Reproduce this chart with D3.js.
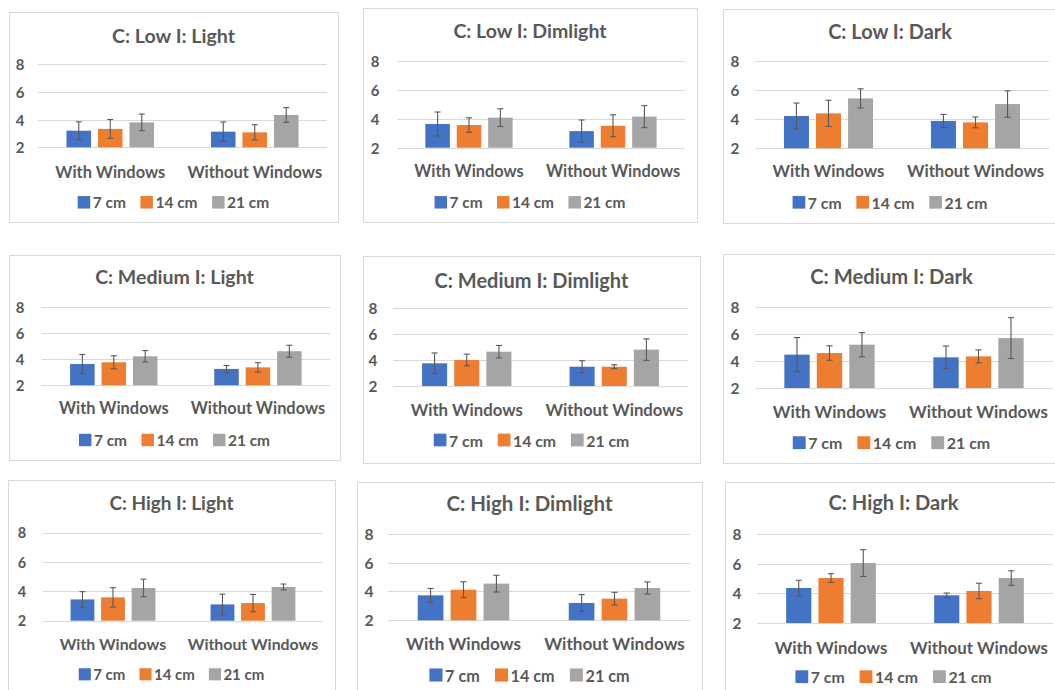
<!DOCTYPE html>
<html>
<head>
<meta charset="utf-8">
<script src="https://cdn.jsdelivr.net/npm/d3@7"></script>
<style>
  html, body { margin: 0; padding: 0; background: #ffffff; }
  svg { display: block; }
  text { font-family: "Lato", "Open Sans", sans-serif; font-weight: 700; fill: #595959; }
</style>
</head>
<body>
<svg id="chart" width="1055" height="690"></svg>
<script>
// ---- data ----
const categories = ["With Windows", "Without Windows"];
const seriesNames = ["7 cm", "14 cm", "21 cm"];
const seriesColors = ["#4472C4", "#ED7D31", "#A5A5A5"];
const yTicks = [2, 4, 6, 8];

const panelTitles = [
  "C: Low I: Light", "C: Low I: Dimlight", "C: Low I: Dark",
  "C: Medium I: Light", "C: Medium I: Dimlight", "C: Medium I: Dark",
  "C: High I: Light", "C: High I: Dimlight", "C: High I: Dark"
];

// mean per category (rows) and series (columns), with +/- error
const lowLightMean = [[3.20, 3.33, 3.80], [3.13, 3.08, 4.34]];
const lowLightErr = [[0.64, 0.68, 0.60], [0.70, 0.55, 0.53]];
const lowDimMean = [[3.64, 3.57, 4.08], [3.15, 3.52, 4.15]];
const lowDimErr = [[0.83, 0.50, 0.61], [0.77, 0.76, 0.76]];
const lowDarkMean = [[4.22, 4.40, 5.43], [3.88, 3.78, 5.04]];
const lowDarkErr = [[0.89, 0.90, 0.66], [0.45, 0.37, 0.91]];

const medLightMean = [[3.64, 3.77, 4.23], [3.26, 3.38, 4.62]];
const medLightErr = [[0.73, 0.50, 0.44], [0.26, 0.36, 0.46]];
const medDimMean = [[3.75, 4.01, 4.65], [3.49, 3.49, 4.81]];
const medDimErr = [[0.80, 0.45, 0.48], [0.46, 0.15, 0.83]];
const medDarkMean = [[4.48, 4.60, 5.22], [4.28, 4.35, 5.71]];
const medDarkErr = [[1.27, 0.54, 0.90], [0.84, 0.48, 1.52]];

const highLightMean = [[3.45, 3.59, 4.23], [3.11, 3.20, 4.30]];
const highLightErr = [[0.53, 0.66, 0.60], [0.70, 0.59, 0.20]];
const highDimMean = [[3.73, 4.12, 4.54], [3.20, 3.50, 4.24]];
const highDimErr = [[0.48, 0.55, 0.58], [0.58, 0.44, 0.42]];
const highDarkMean = [[4.36, 5.03, 6.04], [3.87, 4.16, 5.03]];
const highDarkErr = [[0.52, 0.29, 0.90], [0.15, 0.52, 0.49]];

const panelMeans = [lowLightMean, lowDimMean, lowDarkMean, medLightMean, medDimMean, medDarkMean, highLightMean, highDimMean, highDarkMean];
const panelErrs = [lowLightErr, lowDimErr, lowDarkErr, medLightErr, medDimErr, medDarkErr, highLightErr, highDimErr, highDarkErr];

// ---- layout of each small chart on the page ----
// box: [x0, y0, x1, y1], gx: plot x range, y8/y2: gridline positions for 8 and 2
const layouts = [
  { box: [9, 12, 338, 222], gx: [38, 327], y8: 64.3, y2: 147.3, titleY: 35, catY: 171, legY: 202.3, tickX: 20 },
  { box: [363, 8, 697, 222], gx: [397, 685], y8: 61, y2: 147.7, titleY: 30, catY: 170.7, legY: 202.3, tickX: 375 },
  { box: [723, 9, 1057, 223], gx: [755, 1049], y8: 61, y2: 148.3, titleY: 31, catY: 170.7, legY: 202.3, tickX: 735 },
  { box: [9, 255, 340, 460], gx: [41.7, 330], y8: 307.3, y2: 385.3, titleY: 276.7, catY: 407.7, legY: 440, tickX: 20 },
  { box: [363, 256, 700, 463], gx: [393, 688], y8: 308.3, y2: 386, titleY: 280, catY: 409, legY: 440, tickX: 373 },
  { box: [723, 254, 1060, 463], gx: [755, 1053], y8: 307.3, y2: 388, titleY: 276, catY: 411.7, legY: 442.7, tickX: 735 },
  { box: [8, 480, 335, 700], gx: [43, 323], y8: 532.7, y2: 620.7, titleY: 502, catY: 643, legY: 674.3, tickX: 22 },
  { box: [357, 482, 702, 700], gx: [388, 690], y8: 533.7, y2: 620.3, titleY: 503, catY: 643.3, legY: 675, tickX: 369 },
  { box: [725, 482, 1062, 700], gx: [757, 1053], y8: 534, y2: 623, titleY: 502, catY: 647.7, legY: 676.7, tickX: 737 }
];

const svg = d3.select("#chart");

layouts.forEach((L, i) => {
  const means = panelMeans[i];
  const errs = panelErrs[i];
  const s = (L.gx[1] - L.gx[0]) / 289;
  const g = svg.append("g");
  const cx = (L.box[0] + L.box[2]) / 2;

  // chart frame
  g.append("rect")
    .attr("x", L.box[0] + 0.5).attr("y", L.box[1] + 0.5)
    .attr("width", L.box[2] - L.box[0]).attr("height", L.box[3] - L.box[1])
    .attr("fill", "#ffffff").attr("stroke", "#D9D9D9").attr("stroke-width", 1);

  // title
  g.append("text")
    .attr("x", cx).attr("y", L.titleY)
    .attr("text-anchor", "middle").attr("dominant-baseline", "central")
    .style("font-size", (19.6 * s) + "px")
    .text(panelTitles[i]);

  const y = d3.scaleLinear().domain([2, 8]).range([L.y2, L.y8]);
  const x0 = d3.scaleBand().domain(categories).range(L.gx).padding(0);
  const bw = x0.bandwidth();
  const barW = bw * 0.17;
  const gap = bw * 0.048;
  const x1 = d3.scaleOrdinal().domain(seriesNames)
    .range(seriesNames.map((_, k) => (k - 1) * (barW + gap) - barW / 2));

  // gridlines
  g.selectAll("line.grid").data(yTicks).join("line")
    .attr("class", "grid")
    .attr("x1", L.gx[0]).attr("x2", L.gx[1])
    .attr("y1", d => Math.round(y(d)) + 0.5).attr("y2", d => Math.round(y(d)) + 0.5)
    .attr("stroke", "#D9D9D9").attr("stroke-width", 1);

  // y tick labels
  g.selectAll("text.tick").data(yTicks).join("text")
    .attr("class", "tick")
    .attr("x", L.tickX).attr("y", d => y(d))
    .attr("text-anchor", "middle").attr("dominant-baseline", "central")
    .style("font-size", (15 * s) + "px")
    .text(d => d);

  // bars with error bars
  categories.forEach((c, ci) => {
    const center = x0(c) + bw / 2;
    seriesNames.forEach((sn, si) => {
      const v = means[ci][si];
      const e = errs[ci][si];
      const bx = center + x1(sn);
      g.append("rect")
        .attr("x", bx).attr("y", y(v))
        .attr("width", barW).attr("height", y(2) - y(v))
        .attr("fill", seriesColors[si]);
      const mx = bx + barW / 2;
      const cap = 3 * s;
      g.append("line").attr("x1", mx).attr("x2", mx).attr("y1", y(v + e)).attr("y2", y(v - e))
        .attr("stroke", "#595959").attr("stroke-width", 1.1);
      [v + e, v - e].forEach(t => {
        g.append("line").attr("x1", mx - cap).attr("x2", mx + cap).attr("y1", y(t)).attr("y2", y(t))
          .attr("stroke", "#595959").attr("stroke-width", 1.1);
      });
    });
  });

  // category labels
  g.selectAll("text.cat").data(categories).join("text")
    .attr("class", "cat")
    .attr("x", d => x0(d) + bw / 2).attr("y", L.catY)
    .attr("text-anchor", "middle").attr("dominant-baseline", "central")
    .style("font-size", (16.4 * s) + "px")
    .text(d => d);

  // legend, centred on the chart frame
  const leg = g.append("g");
  const sq = 12.5 * s;
  let xpos = 0;
  seriesNames.forEach((sn, si) => {
    leg.append("rect").attr("x", xpos).attr("y", L.legY - sq / 2)
      .attr("width", sq).attr("height", sq).attr("fill", seriesColors[si]);
    const t = leg.append("text").attr("x", xpos + sq + 2.5 * s).attr("y", L.legY)
      .attr("dominant-baseline", "central")
      .style("font-size", (15.5 * s) + "px")
      .text(sn);
    xpos += sq + 2.5 * s + t.node().getComputedTextLength();
    if (si < seriesNames.length - 1) xpos += 14.5 * s;
  });
  leg.attr("transform", `translate(${cx - xpos / 2},0)`);
});
</script>
</body>
</html>
